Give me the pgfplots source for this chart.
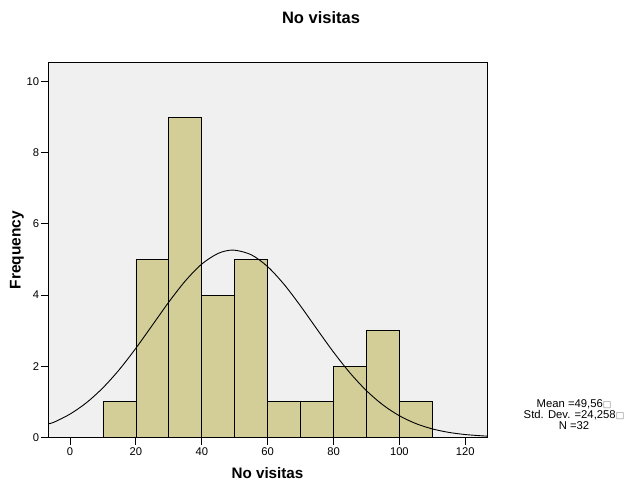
\documentclass[border=0pt]{standalone}
\usepackage{pgfplots}
\pgfplotsset{compat=1.18}
\usepackage{fontspec}
\setmainfont{Liberation Sans}
\newfontfamily\symfont{DejaVu Sans}
\definecolor{barfill}{HTML}{D3CE97}
\definecolor{bg}{HTML}{F0F0F0}
\begin{document}
\begin{tikzpicture}[x=1pt,y=1pt]
\useasboundingbox (0pt,0pt) rectangle (624pt,483pt);
\begin{axis}[
  at={(48.3pt,45.7pt)}, anchor=south west,
  scale only axis, width=439pt, height=374.6pt,
  xmin=-6.6, xmax=126.7, ymin=0, ymax=10.53,
  xtick={0,20,...,120}, ytick={0,2,...,10},
  tick align=outside, tick pos=left,
  major tick length=7.5pt,
  tick style={black, line width=0.9pt},
  axis line style={black, line width=0.9pt},
  axis background/.style={fill=bg},
  /pgf/number format/assume math mode=true,
  ticklabel style={font=\fontsize{11.2}{13}\selectfont, inner sep=1pt},
  xticklabel style={yshift=-1.5pt},
  yticklabel style={xshift=-0.5pt},
  clip=true,
]
\addplot[ybar interval, fill=barfill, draw=black, line width=0.8pt]
  coordinates {(10,1) (20,5) (30,9) (40,4) (50,5) (60,1) (70,1) (80,2) (90,3) (100,1) (110,1)};
\addplot[black, line width=0.9pt, smooth] coordinates {
(-7,0.3730) (-5,0.4195) (0,0.6528) (5,0.9737) (10,1.3925) (15,1.9073) (20,2.5050)
(25,3.1524) (30,3.8023) (35,4.3955) (40,4.8696) (45,5.1706) (49.56,5.2627)
(55,5.1322) (60,4.7975) (65,4.2975) (70,3.6903) (75,3.0366) (80,2.3951)
(85,1.8104) (90,1.3115) (95,0.9104) (100,0.6057) (105,0.3863) (110,0.2361)
(115,0.1383) (120,0.0776) (125,0.0418) (127,0.0322)};
\end{axis}
\node[font=\bfseries\fontsize{16.5}{18}\selectfont] at (321pt,465pt) {No visitas};
\node[font=\bfseries\fontsize{15.2}{17}\selectfont] at (267.5pt,10pt) {No visitas};
\node[font=\bfseries\fontsize{15.5}{17}\selectfont, rotate=90] at (17pt,233pt) {Frequency};
\node[font=\fontsize{11.3}{11.2}\selectfont, align=center] at (574pt,68.5pt)
  {Mean =49,56{\symfont\fontsize{9}{8}\selectfont\color{gray}□}\\Std. Dev. =24,258{\symfont\fontsize{9}{8}\selectfont\color{gray}□}\\N =32};
\end{tikzpicture}
\end{document}
